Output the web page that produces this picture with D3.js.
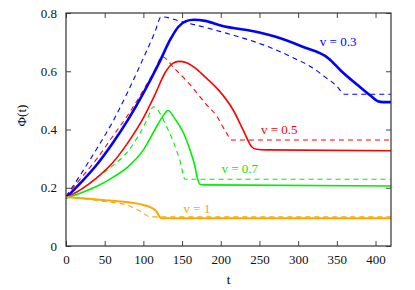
<!DOCTYPE html>
<html>
<head>
<meta charset="utf-8">
<script src="https://cdn.jsdelivr.net/npm/d3@7"></script>
<style>
  body { margin: 0; background: #fff; }
  text { font-family: "Liberation Serif", "DejaVu Serif", serif; }
</style>
</head>
<body>
<div id="chart"></div>
<script>
var margin = { top: 13, right: 24, bottom: 44, left: 66 };
var width = 415 - margin.left - margin.right;
var height = 290 - margin.top - margin.bottom;

var xTicks = [0, 50, 100, 150, 200, 250, 300, 350, 400];
var yTicks = [0, 0.2, 0.4, 0.6, 0.8];
var yTickLabels = ["0", "0.2", "0.4", "0.6", "0.8"];

// v = 0.3
var blueSolid = [[0,0.165],[20,0.22],[40,0.28],[60,0.352],[80,0.433],[100,0.525],[120,0.627],[135,0.71],[145,0.752],[155,0.772],[165,0.777],[180,0.773],[200,0.757],[250,0.733],[270,0.719],[305,0.685],[339,0.645],[356,0.6],[378,0.55],[395,0.513],[403,0.497],[410,0.494],[420,0.494]];
var blueDash = [[0,0.17],[20,0.25],[40,0.335],[60,0.425],[80,0.53],[100,0.645],[115,0.735],[123,0.787],[150,0.77],[200,0.736],[270,0.675],[300,0.638],[313,0.621],[335,0.58],[350,0.549],[360,0.521],[420,0.521]];
// v = 0.5
var redSolid = [[0,0.165],[20,0.195],[40,0.235],[60,0.285],[80,0.355],[100,0.44],[115,0.52],[128,0.595],[138,0.627],[146,0.634],[155,0.63],[165,0.615],[180,0.58],[197,0.536],[216,0.467],[229,0.398],[240,0.341],[246,0.332],[260,0.33],[420,0.327]];
var redDash = [[0,0.17],[20,0.235],[40,0.3],[60,0.375],[80,0.45],[100,0.535],[115,0.605],[124,0.65],[140,0.61],[160,0.555],[180,0.49],[195,0.445],[207,0.39],[214,0.364],[420,0.364]];
// v = 0.7
var greenSolid = [[0,0.165],[20,0.183],[40,0.205],[60,0.235],[80,0.272],[100,0.33],[115,0.4],[125,0.445],[132,0.465],[140,0.44],[152,0.387],[165,0.29],[173,0.212],[180,0.21],[420,0.206]];
var greenDash = [[0,0.168],[20,0.195],[40,0.235],[60,0.275],[80,0.325],[95,0.385],[105,0.435],[113,0.478],[130,0.41],[147,0.295],[154,0.229],[420,0.229]];
// v = 1
var orangeSolid = [[0,0.167],[25,0.163],[57,0.156],[75,0.152],[100,0.141],[110,0.132],[117,0.118],[121,0.1],[124,0.095],[420,0.095]];
var orangeDash = [[0,0.17],[35,0.158],[55,0.151],[78,0.141],[92,0.125],[100,0.114],[108,0.1],[420,0.1]];

var seriesLabels = ["v = 0.3", "v = 0.5", "v = 0.7", "v = 1"];
var colors = ["#0000ff", "#ff0000", "#00ee00", "#ffa500"];

var x = d3.scaleLinear().domain([0, 420]).range([0, width]);
var y = d3.scaleLinear().domain([0, 0.8]).range([height, 0]);

var svg = d3.select("#chart").append("svg")
    .attr("width", width + margin.left + margin.right)
    .attr("height", height + margin.top + margin.bottom)
  .append("g")
    .attr("transform", "translate(" + margin.left + "," + margin.top + ")");

// ticks on all four sides, pointing inward
svg.append("g")
    .attr("transform", "translate(0," + height + ")")
    .call(d3.axisBottom(x).tickValues(xTicks).tickSize(-5).tickPadding(9).tickFormat(d3.format("d")));
svg.append("g")
    .call(d3.axisTop(x).tickValues(xTicks).tickSize(-5).tickFormat(""));
svg.append("g")
    .call(d3.axisLeft(y).tickValues(yTicks).tickSize(-5).tickPadding(9)
      .tickFormat(function (d, i) { return yTickLabels[i]; }));
svg.append("g")
    .attr("transform", "translate(" + width + ",0)")
    .call(d3.axisRight(y).tickValues(yTicks).tickSize(-5).tickFormat(""));

svg.selectAll(".domain").remove();
svg.selectAll(".tick line").attr("stroke", "#444");
svg.selectAll(".tick text").attr("font-size", 13).attr("fill", "#111");

var line = d3.line()
    .x(function (d) { return x(d[0]); })
    .y(function (d) { return y(d[1]); })
    .curve(d3.curveMonotoneX);

var dashed = [blueDash, redDash, greenDash, orangeDash];
var solid = [blueSolid, redSolid, greenSolid, orangeSolid];
var solidWidth = [2.6, 1.6, 1.6, 2];

svg.append("clipPath").attr("id", "clip")
  .append("rect").attr("width", width).attr("height", height);

var plot = svg.append("g").attr("clip-path", "url(#clip)");

dashed.forEach(function (s, i) {
  plot.append("path")
      .attr("d", line(s))
      .attr("fill", "none")
      .attr("stroke", colors[i])
      .attr("stroke-width", 1.1)
      .attr("stroke-dasharray", "5,4");
});
solid.forEach(function (s, i) {
  plot.append("path")
      .attr("d", line(s))
      .attr("fill", "none")
      .attr("stroke", colors[i])
      .attr("stroke-width", solidWidth[i]);
});

// frame
svg.append("rect")
    .attr("width", width)
    .attr("height", height)
    .attr("fill", "none")
    .attr("stroke", "#333")
    .attr("stroke-width", 1.2);

// curve labels
var labelPos = [[328, 0.685], [252, 0.383], [201, 0.25], [152, 0.115]];
svg.selectAll(".vlabel")
    .data(seriesLabels)
  .enter().append("text")
    .attr("class", "vlabel")
    .attr("x", function (d, i) { return x(labelPos[i][0]); })
    .attr("y", function (d, i) { return y(labelPos[i][1]); })
    .attr("fill", function (d, i) { return colors[i]; })
    .attr("font-size", 13)
    .text(function (d) { return d; });

// axis labels
svg.append("text")
    .attr("x", width / 2)
    .attr("y", height + 38)
    .attr("text-anchor", "middle")
    .attr("font-size", 13)
    .text("t");

svg.append("text")
    .attr("transform", "translate(-40," + (height / 2 - 14) + ") rotate(-90)")
    .attr("text-anchor", "middle")
    .attr("font-size", 13)
    .text("Φ(t)");
</script>
</body>
</html>
